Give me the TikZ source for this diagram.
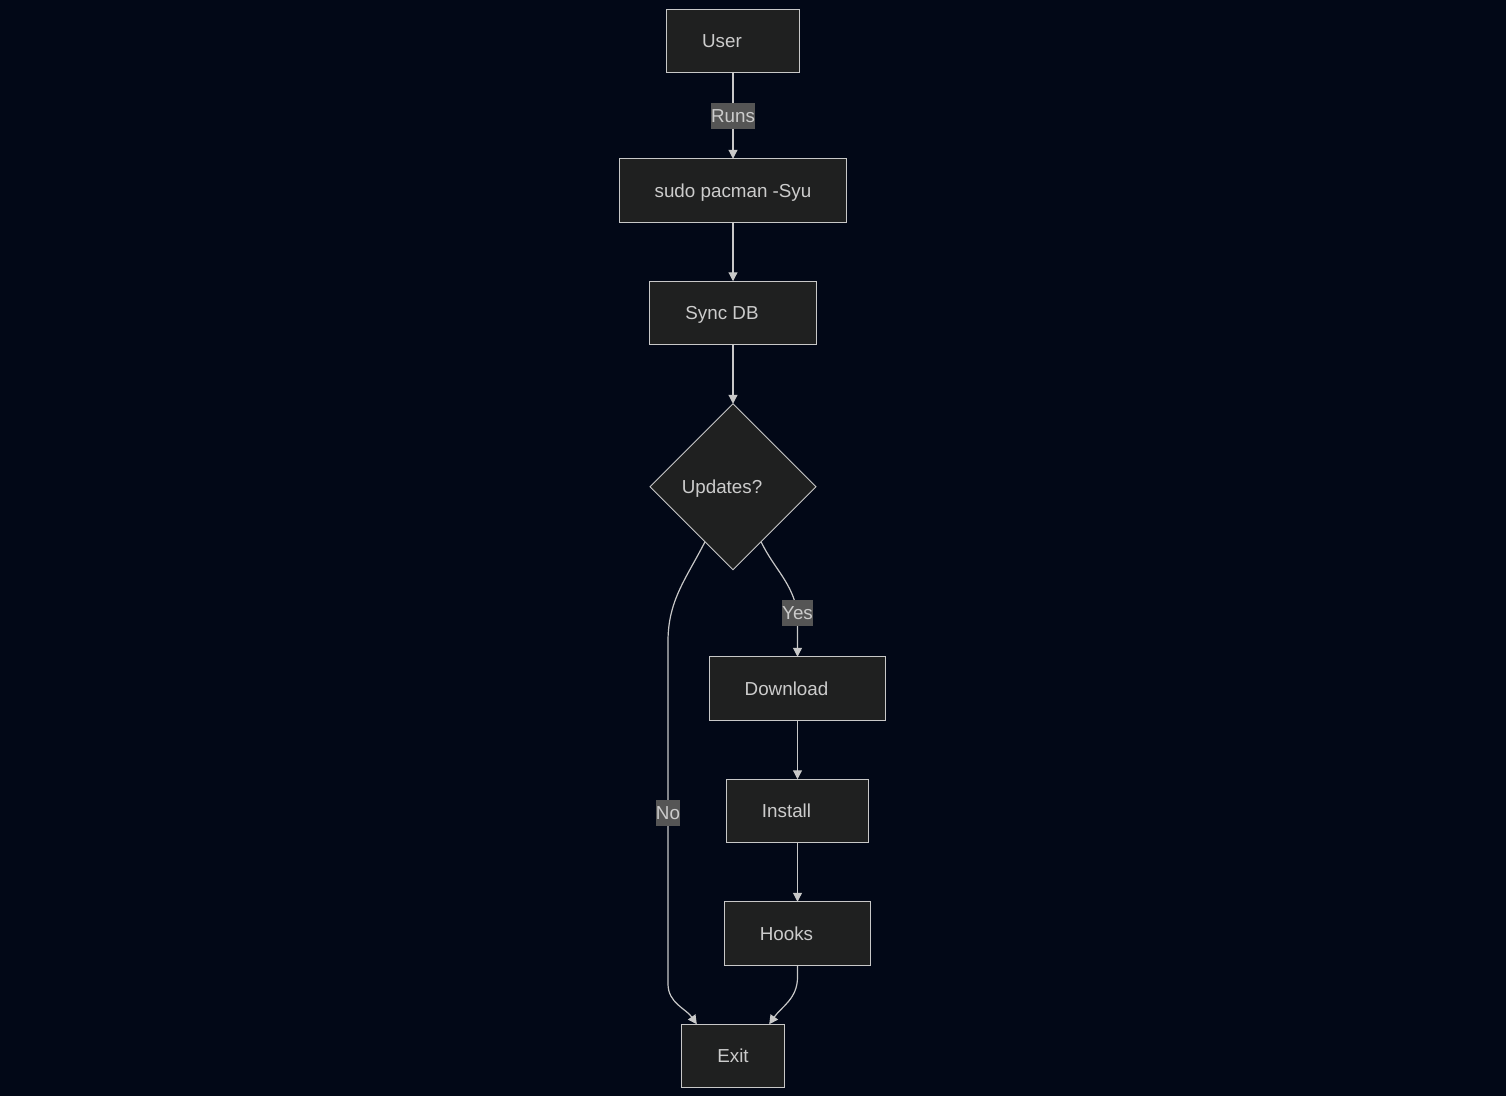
\documentclass[tikz,border=0pt]{standalone}
\usepackage{fontspec}
\setmainfont{Liberation Sans}
\usetikzlibrary{positioning,shapes.geometric,arrows.meta}
\definecolor{bgnavy}{HTML}{020817}
\definecolor{boxfill}{HTML}{1F2020}
\definecolor{boxline}{HTML}{C8C8C8}
\definecolor{boxtext}{HTML}{CCCCCC}
\definecolor{lblfill}{HTML}{555555}
\newcommand{\pad}{\hspace*{22pt}}
\begin{document}
\begin{tikzpicture}[x=1pt,y=1pt,
    box/.style={draw=boxline,fill=boxfill,line width=1pt,outer sep=0pt,minimum height=63.5pt,inner xsep=35.5pt,inner ysep=0pt,text height=13pt,text depth=0pt},
    decide/.style={diamond,aspect=1,draw=boxline,fill=boxfill,line width=1pt,outer sep=0pt,minimum size=166pt,inner sep=0pt,text height=13pt,text depth=0pt},
    lbl/.style={fill=lblfill,inner xsep=0pt,inner ysep=4pt,text height=16pt,text depth=2pt},
    flow/.style={draw=boxline,line width=1.2pt,-{Triangle[length=9pt,width=9pt]}}]
\tikzset{every node/.style={text=boxtext,font=\fontsize{18.8}{22}\selectfont}}
%\tikzset{every node/.style={text=boxtext,
%                            font=\sffamily\large}}
\fill[bgnavy] (0,0) rectangle (1506,-1096);
\node[box] (user) at (733,-41) {User\pad};
\node[box,below=86pt of user] (pac) {sudo pacman -Syu};
\node[box,below=59pt of pac] (db) {Sync DB\pad};
\node[decide,below=59pt of db] (upd) {Updates?\pad};
\node[box,below=87pt of upd,xshift=64.5pt] (dl) {Download\pad};
\node[box,below=59pt of dl] (inst) {Install\pad};
\node[box,below=59pt of inst] (hook) {Hooks\pad};
\node[box,below=59pt of hook,xshift=-64.5pt] (exit) {Exit};

\draw[flow] (user) -- node[lbl] {Runs} (pac);
\draw[flow] (pac) -- (db);
\draw[flow] (db) -- (upd);
\draw[flow] (upd.-63) to[out=-64,in=100] node[lbl,pos=1] {Yes} ([yshift=44pt]dl.north) -- (dl.north);
\draw[flow] (dl) -- (inst);
\draw[flow] (inst) -- (hook);
\draw[flow] (hook.south) -- ++(0,-12) to[out=-90,in=55] ([xshift=-15pt]exit.north east);
\draw[flow] (upd.-117) to[out=-117,in=90] ++(-37,-100)
    -- node[lbl,pos=0.5] {No} ++(0,-342)
    to[out=-90,in=125] ([xshift=15pt]exit.north west);
\end{tikzpicture}
\end{document}
